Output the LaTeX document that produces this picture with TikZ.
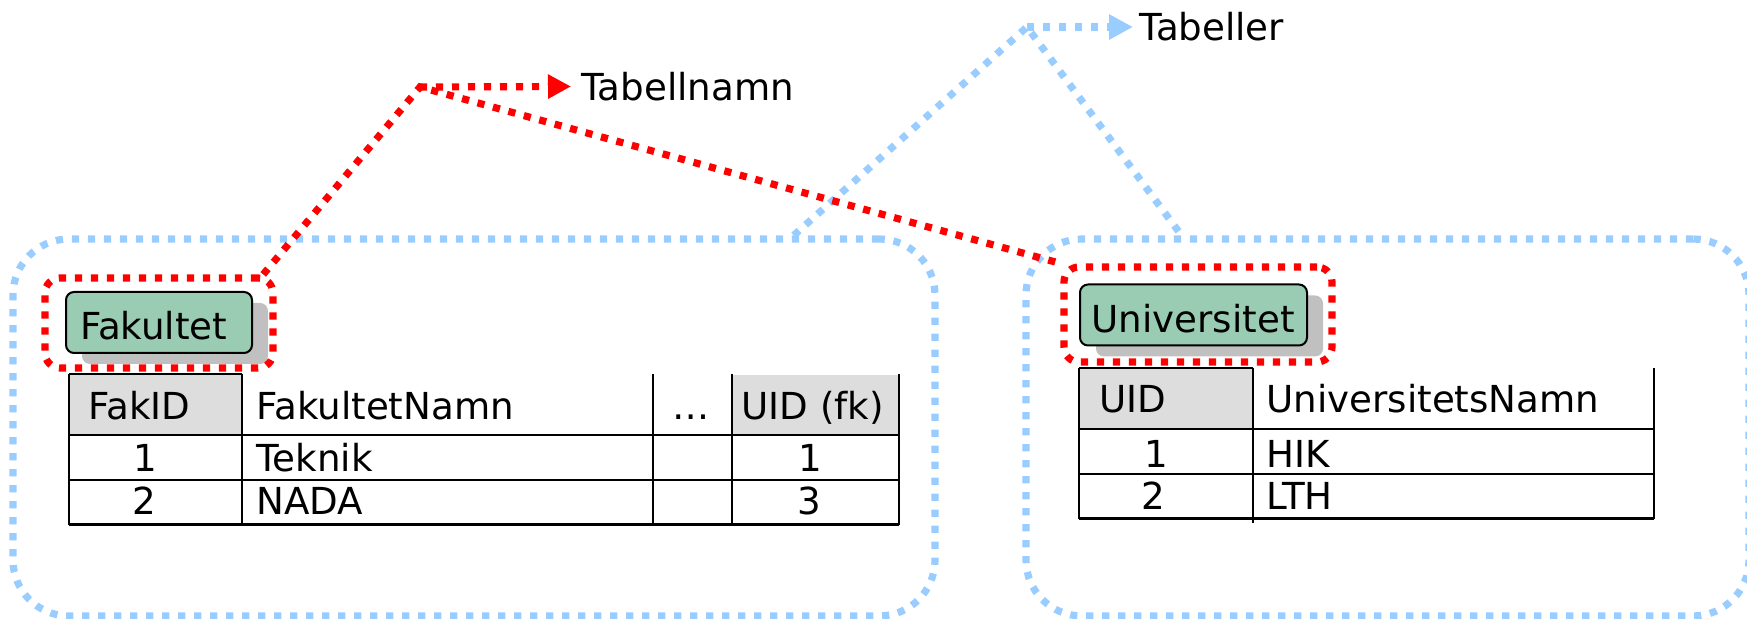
\documentclass[tikz,border=0pt]{standalone}
\usepackage{fontspec}
\setmainfont{DejaVu Sans}
\usetikzlibrary{arrows.meta,shadows,calc}

\definecolor{tblue}{HTML}{99CCFF}
\definecolor{tred}{HTML}{FF0000}
\definecolor{tgreen}{HTML}{99CCB3}
\definecolor{thead}{HTML}{DDDDDD}
\definecolor{tshadow}{HTML}{C0C0C0}

\tikzset{
  dots/.style={line width=3.6pt, dash pattern=on 3.6pt off 4.4pt},
  groupbox/.style={dots, draw=tblue, rounded corners=28pt, inner sep=0pt},
  namebox/.style={dots, draw=tred, rounded corners=7.5pt, inner sep=0pt},
  blueline/.style={dots, draw=tblue},
  redline/.style={dots, draw=tred},
  txt/.style={font=\fontsize{18.6pt}{21pt}\selectfont},
  tablename/.style={txt, draw=black, line width=1pt, fill=tgreen,
    rounded corners=4pt, align=left, inner ysep=0pt,
    minimum height=30.5pt, text height=20pt, text depth=2.5pt,
    drop shadow={shadow xshift=8pt, shadow yshift=-5.5pt,
      fill=tshadow, opacity=1}},
  cell/.style={txt, inner sep=0pt, anchor=base west},
  num/.style={txt, inner sep=0pt, anchor=base},
  grid/.style={line width=1.1pt, draw=black},
  headfill/.style={fill=thead, draw=none},
  label/.style={txt, anchor=west, inner ysep=0pt},
}

\begin{document}
\begin{tikzpicture}[x=0.5pt, y=-0.5pt]
\useasboundingbox (0,0) rectangle (1747,619);

% the two table groups
\node[groupbox, minimum width=461pt, minimum height=188.5pt] (leftbox) at (474,427.5) {};
\node[groupbox, minimum width=361.5pt, minimum height=188.5pt] (rightbox) at (1387.5,427.5) {};

% Fakultet table
\fill[headfill] (69,374) rectangle (242,435);
\fill[headfill] (732,375) rectangle (899,435);
\draw[grid] (69,374) -- (242,374);
\foreach \x in {69,242,653,732,899} \draw[grid] (\x,374) -- (\x,525);
\foreach \y in {435,480} \draw[grid] (69,\y) -- (899,\y);
\draw[grid, line width=1.5pt] (69,525) -- (899,525);

\node[cell] (fh1) at (88,420) {FakID};
\node[cell] (fh2) at (256,420) {FakultetNamn};
\node[num]  (fh3) at (691,420) {…};
\node[cell] (fh4) at (741,420) {UID (fk)};
\node[num]  (f11) at (145,472) {1};
\node[cell] (f12) at (256,472) {Teknik};
\node[num]  (f14) at (810,472) {1};
\node[num]  (f21) at (144,515) {2};
\node[cell] (f22) at (256,515) {NADA};
\node[num]  (f24) at (809,515) {3};

% Universitet table
\fill[headfill] (1079,368) rectangle (1253,429);
\draw[grid] (1079,368) -- (1253,368);
\draw[grid] (1079,368) -- (1079,519);
\draw[grid] (1253,368) -- (1253,523);
\draw[grid] (1654,368) -- (1654,519);
\foreach \y in {429,474} \draw[grid] (1079,\y) -- (1654,\y);
\draw[grid, line width=1.5pt] (1079,519) -- (1654,519);

\node[cell] (uh1) at (1099,413) {UID};
\node[cell] (uh2) at (1266,413) {UniversitetsNamn};
\node[num]  (u11) at (1156,468) {1};
\node[cell] (u12) at (1266,468) {HIK};
\node[num]  (u21) at (1153,510) {2};
\node[cell] (u22) at (1266,510) {LTH};

% table names
\node[tablename, inner xsep=7pt, text width=79pt] (fakultet) at (159,322.5) {Fakultet};
\node[tablename, inner xsep=5.75pt, text width=102pt] (universitet) at (1193.5,315) {Universitet};

% labels and hubs
\node[label, inner xsep=3pt] (tabeller) at (1133,27) {Tabeller};
\node[label, inner xsep=5pt] (tabellnamn) at (571,86.5) {Tabellnamn};
\coordinate (bluehub) at (1027,27);
\coordinate (redhub) at (420,87);

\draw[blueline] (leftbox.31.4) -- (bluehub) -- (rightbox.137.9);
\draw[blueline, -{Triangle[length=12pt,width=12pt]}] (bluehub) -- (tabeller.west);

% name highlight frames
\node[namebox, minimum width=114pt, minimum height=45pt] (fakred) at (159,323) {};
\node[namebox, minimum width=134pt, minimum height=47.5pt] (unired) at (1198,314.5) {};

\draw[redline] (fakred.25) -- (redhub) -- (unired.north west);
\draw[redline, -{Triangle[length=11.5pt,width=11.5pt]}] (redhub) -- (tabellnamn.west);
\end{tikzpicture}
\end{document}
